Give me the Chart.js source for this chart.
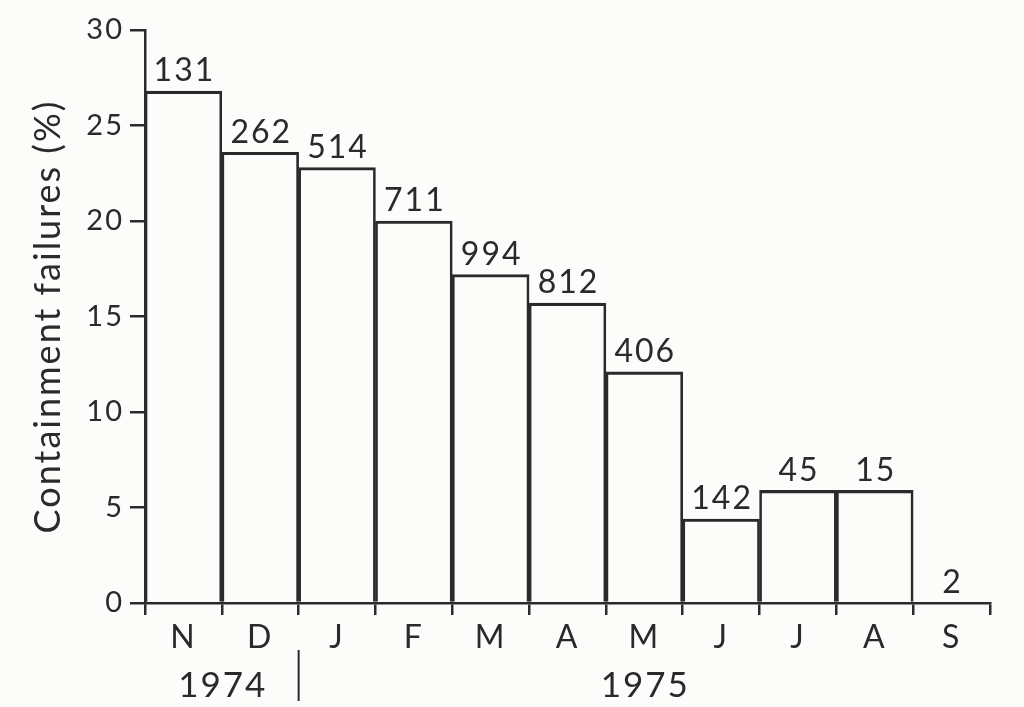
<!DOCTYPE html>
<html>
<head>
<meta charset="utf-8">
<script src="https://cdn.jsdelivr.net/npm/chart.js@4.4.1/dist/chart.umd.min.js"></script>
<style>
  html, body { margin: 0; padding: 0; background: #fcfcfa; }
</style>
</head>
<body>
<canvas id="canvas" width="1024" height="707"></canvas>
<script>
// values
var months = ['N', 'D', 'J', 'F', 'M', 'A', 'M', 'J', 'J', 'A', 'S'];
var failures = [26.8, 23.6, 22.8, 20.0, 17.2, 15.7, 12.1, 4.4, 5.9, 5.9, 0];
var counts = ['131', '262', '514', '711', '994', '812', '406', '142', '45', '15', '2'];
var yearLabels = ['1974', '1975'];
var yearFirst = [0, 2];   // index of first month of each year
var yearLast = [1, 10];

var ink = '#2a2a2a';
var fontName = 'Lato, "Open Sans", sans-serif';

// paper background + spaced lettering like the original print
const paper = {
  id: 'paper',
  beforeDraw(chart) {
    const ctx = chart.ctx;
    ctx.save();
    ctx.fillStyle = '#fcfcfa';
    ctx.fillRect(0, 0, chart.width, chart.height);
    ctx.restore();
    ctx.letterSpacing = '2px';
  }
};

// sample size written over each bar
const barCounts = {
  id: 'barCounts',
  afterDatasetsDraw(chart) {
    const ctx = chart.ctx;
    const bars = chart.getDatasetMeta(0).data;
    ctx.save();
    ctx.font = '32px ' + fontName;
    ctx.fillStyle = ink;
    ctx.textAlign = 'center';
    ctx.textBaseline = 'bottom';
    bars.forEach((bar, i) => {
      ctx.fillText(counts[i], bar.x + 1, bar.y - 4);
    });
    ctx.restore();
  }
};

// year row under the month letters
const years = {
  id: 'years',
  afterDraw(chart) {
    const ctx = chart.ctx;
    const xs = chart.scales.x;
    const half = (xs.getPixelForValue(1) - xs.getPixelForValue(0)) / 2;
    ctx.save();
    ctx.font = '35px ' + fontName;
    ctx.fillStyle = ink;
    ctx.textAlign = 'center';
    ctx.textBaseline = 'middle';
    yearLabels.forEach((lbl, k) => {
      const a = xs.getPixelForValue(yearFirst[k]) - half;
      const b = xs.getPixelForValue(yearLast[k]) + half;
      ctx.fillText(lbl, (a + b) / 2 + 1, 686);
    });
    // divider between the years
    const sep = xs.getPixelForValue(yearFirst[1]) - half;
    ctx.strokeStyle = ink;
    ctx.lineWidth = 2;
    ctx.beginPath();
    ctx.moveTo(sep, 650);
    ctx.lineTo(sep, 701);
    ctx.stroke();
    ctx.restore();
  }
};

const ctx = document.getElementById('canvas').getContext('2d');
const myChart = new Chart(ctx, {
  type: 'bar',
  data: {
    labels: months,
    datasets: [{
      data: failures,
      backgroundColor: 'rgba(0,0,0,0)',
      borderColor: ink,
      borderWidth: { top: 2.5, left: 2, right: 2, bottom: 0 },
      borderSkipped: false,
      categoryPercentage: 1,
      barPercentage: 1
    }]
  },
  options: {
    responsive: false,
    animation: false,
    devicePixelRatio: 1,
    layout: { padding: { top: 30, right: 34, left: 27, bottom: 0 } },
    plugins: {
      legend: { display: false },
      tooltip: { enabled: false }
    },
    scales: {
      x: {
        afterFit(scale) { scale.height = 104; },
        grid: { offset: true, drawOnChartArea: false, drawTicks: true, tickLength: 12, color: ink, lineWidth: 2.5 },
        border: { color: ink, width: 2.5 },
        ticks: { color: ink, font: { family: fontName, size: 32 }, padding: 3 }
      },
      y: {
        min: 0,
        max: 30,
        afterFit(scale) { scale.width = 118; },
        grid: { drawOnChartArea: false, drawTicks: true, tickLength: 15, color: ink, lineWidth: 2.5 },
        border: { color: ink, width: 2.5 },
        ticks: { stepSize: 5, color: ink, font: { family: fontName, size: 29 }, padding: 6 },
        title: {
          display: true,
          text: 'Containment failures (%)',
          color: ink,
          font: { family: fontName, size: 36 },
          padding: { top: 0, bottom: 2 }
        }
      }
    }
  },
  plugins: [paper, barCounts, years]
});
</script>
</body>
</html>
